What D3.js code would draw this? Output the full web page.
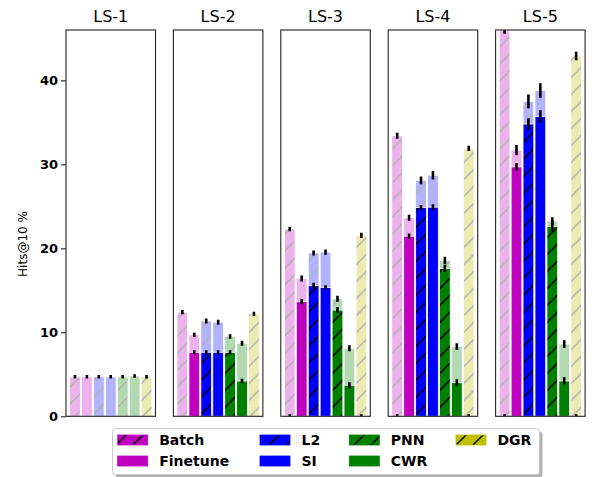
<!DOCTYPE html>
<html>
<head>
<meta charset="utf-8">
<script src="https://cdn.jsdelivr.net/npm/d3@7"></script>
<style>
  html, body { margin: 0; padding: 0; background: #fff; }
  svg { display: block; }
  text { font-family: "DejaVu Sans", sans-serif; }
</style>
</head>
<body>
<svg id="chart" width="592" height="477"></svg>
<script>
// ---------------- data ----------------
const panels = ["LS-1", "LS-2", "LS-3", "LS-4", "LS-5"];
const methods = ["Batch", "Finetune", "L2", "SI", "PNN", "CWR", "DGR"];
const hatched = [true, false, true, false, true, false, true];
const colors = ["#bf00bf", "#bf00bf", "#0000ff", "#0000ff", "#008000", "#008000", "#bfbf00"];
const yTicks = [0, 10, 20, 30, 40];

// light (full) bars: one row per panel, one value per method
const lightValues = [
  [4.7, 4.7, 4.7, 4.7, 4.7, 4.8, 4.7],
  [12.4, 9.7, 11.35, 11.2, 9.5, 8.7, 12.2],
  [22.3, 16.4, 19.45, 19.55, 14.0, 8.1, 21.55],
  [33.4, 23.65, 28.1, 28.7, 18.55, 8.3, 31.9],
  [45.9, 31.7, 37.5, 38.8, 23.25, 8.6, 42.9]
];
const lightErr = [
  [0.05, 0.05, 0.05, 0.05, 0.05, 0.05, 0.05],
  [0.1, 0.1, 0.15, 0.15, 0.12, 0.15, 0.1],
  [0.1, 0.2, 0.15, 0.15, 0.2, 0.2, 0.15],
  [0.2, 0.2, 0.3, 0.35, 0.3, 0.25, 0.15],
  [0.2, 0.45, 0.65, 0.7, 0.3, 0.3, 0.35]
];
// dark (overlaid) bars, null where absent
const darkValues = [
  [null, null, null, null, null, null, null],
  [null, 7.62, 7.62, 7.62, 7.62, 4.2, null],
  [0.05, 13.65, 15.55, 15.35, 12.65, 3.7, 0.05],
  [0.05, 21.45, 24.85, 24.9, 17.6, 4.0, 0.05],
  [0.05, 29.7, 34.8, 35.7, 22.6, 4.2, 0.05]
];
const darkErr = [
  [0, 0, 0, 0, 0, 0, 0],
  [0, 0.1, 0.1, 0.1, 0.1, 0.12, 0],
  [0.05, 0.15, 0.2, 0.1, 0.2, 0.2, 0.05],
  [0.05, 0.15, 0.15, 0.2, 0.25, 0.25, 0.05],
  [0.05, 0.3, 0.55, 0.6, 0.55, 0.3, 0.05]
];

// ---------------- layout ----------------
const svg = d3.select("#chart");
const yTop = 30, yBot = 416.3;
const y = d3.scaleLinear().domain([0, 46]).range([yBot, yTop]);
const px = d3.scaleBand().domain(panels).range([66, 585.1]).paddingInner(0.1667).paddingOuter(0);
const bw = px.bandwidth();
const xin = d3.scaleLinear().domain([-0.75, 6.75]).range([0, bw]);
const barW = xin(0.45) - xin(-0.45);

// hatch patterns
const defs = svg.append("defs");
const H = 17;
colors.forEach((c, i) => {
  const p = defs.append("pattern")
    .attr("id", "hatch" + i)
    .attr("patternUnits", "userSpaceOnUse")
    .attr("width", H).attr("height", H);
  p.append("rect").attr("width", H).attr("height", H).attr("fill", c);
  p.append("path")
    .attr("d", `M0,${H} L${H},0 M${-H/4},${H/4} L${H/4},${-H/4} M${H*3/4},${H*5/4} L${H*5/4},${H*3/4}`)
    .attr("stroke", "#000").attr("stroke-width", 1.5);
});
const fillFor = i => hatched[i] ? `url(#hatch${i})` : colors[i];

panels.forEach((name, pi) => {
  const g = svg.append("g").attr("transform", `translate(${px(name)},0)`);
  const clipId = "clip" + pi;
  defs.append("clipPath").attr("id", clipId)
    .append("rect").attr("x", 0).attr("y", yTop).attr("width", bw).attr("height", yBot - yTop);
  const bars = g.append("g").attr("clip-path", `url(#${clipId})`);

  // light bars
  bars.selectAll("rect.light").data(methods).join("rect")
    .attr("class", "light")
    .attr("x", (d, i) => xin(i) - barW / 2)
    .attr("width", barW)
    .attr("y", (d, i) => y(lightValues[pi][i]))
    .attr("height", (d, i) => y(0) - y(lightValues[pi][i]))
    .attr("fill", (d, i) => fillFor(i))
    .attr("opacity", 0.3)
    .attr("stroke", "#fff").attr("stroke-width", 0.8);

  // dark bars
  const darkIdx = methods.map((d, i) => i).filter(i => darkValues[pi][i] !== null);
  bars.selectAll("rect.dark").data(darkIdx).join("rect")
    .attr("class", "dark")
    .attr("x", i => xin(i) - barW / 2)
    .attr("width", barW)
    .attr("y", i => y(darkValues[pi][i]))
    .attr("height", i => y(0) - y(darkValues[pi][i]))
    .attr("fill", i => fillFor(i))
    .attr("stroke", "#fff").attr("stroke-width", 0.8);

  // error bars (light)
  bars.selectAll("line.el").data(methods).join("line")
    .attr("class", "el")
    .attr("x1", (d, i) => xin(i)).attr("x2", (d, i) => xin(i))
    .attr("y1", (d, i) => y(lightValues[pi][i] - lightErr[pi][i]))
    .attr("y2", (d, i) => y(lightValues[pi][i] + lightErr[pi][i]))
    .attr("stroke", "#000").attr("stroke-width", 2.6).attr("stroke-linecap", "square");
  // error bars (dark)
  bars.selectAll("line.ed").data(darkIdx).join("line")
    .attr("class", "ed")
    .attr("x1", i => xin(i)).attr("x2", i => xin(i))
    .attr("y1", i => y(darkValues[pi][i] - darkErr[pi][i]))
    .attr("y2", i => y(darkValues[pi][i] + darkErr[pi][i]))
    .attr("stroke", "#000").attr("stroke-width", 2.6).attr("stroke-linecap", "square");

  // frame
  g.append("rect").attr("x", 0).attr("y", yTop).attr("width", bw).attr("height", yBot - yTop)
    .attr("fill", "none").attr("stroke", "#222").attr("stroke-width", 1.1);

  // title
  g.append("text").attr("x", bw / 2).attr("y", 22).attr("text-anchor", "middle")
    .attr("font-size", 16).attr("fill", "#000").text(name);

  if (pi === 0) {
    const ax = d3.axisLeft(y).tickValues(yTicks).tickSize(5).tickPadding(3).tickFormat(d3.format("d"));
    const a = g.append("g").call(ax);
    a.select(".domain").remove();
    a.selectAll(".tick line").attr("stroke", "#222").attr("stroke-width", 1.1);
    a.selectAll(".tick text").attr("font-size", 13).attr("font-weight", "bold")
      .attr("font-family", "DejaVu Sans, sans-serif").attr("fill", "#000");
  }
});

// y label
svg.append("text").attr("transform", "translate(27,244) rotate(-90)")
  .attr("text-anchor", "middle").attr("font-size", 12).attr("fill", "#000").text("Hits@10 %");

// ---------------- legend ----------------
const lg = svg.append("g");
const LX = 112.5, LY = 428.5, LW = 427, LH = 46;
lg.append("rect").attr("x", LX + 3).attr("y", LY + 3).attr("width", LW).attr("height", LH)
  .attr("rx", 3).attr("fill", "#000").attr("opacity", 0.3);
lg.append("rect").attr("x", LX).attr("y", LY).attr("width", LW).attr("height", LH)
  .attr("rx", 3).attr("fill", "#fff").attr("stroke", "#ccc").attr("stroke-width", 1);
const colX = [117.7, 260, 349.3, 456];
const rowY = [435, 456];
methods.forEach((m, i) => {
  const c = Math.floor(i / 2), r = i % 2;
  lg.append("rect").attr("x", colX[c]).attr("y", rowY[r]).attr("width", 30).attr("height", 10)
    .attr("fill", fillFor(i)).attr("stroke", colors[i]).attr("stroke-width", 0.8);
  lg.append("text").attr("x", colX[c] + 41.5).attr("y", rowY[r] + 10)
    .attr("font-size", 14).attr("font-weight", "bold").attr("fill", "#000").text(m);
});
</script>
</body>
</html>
